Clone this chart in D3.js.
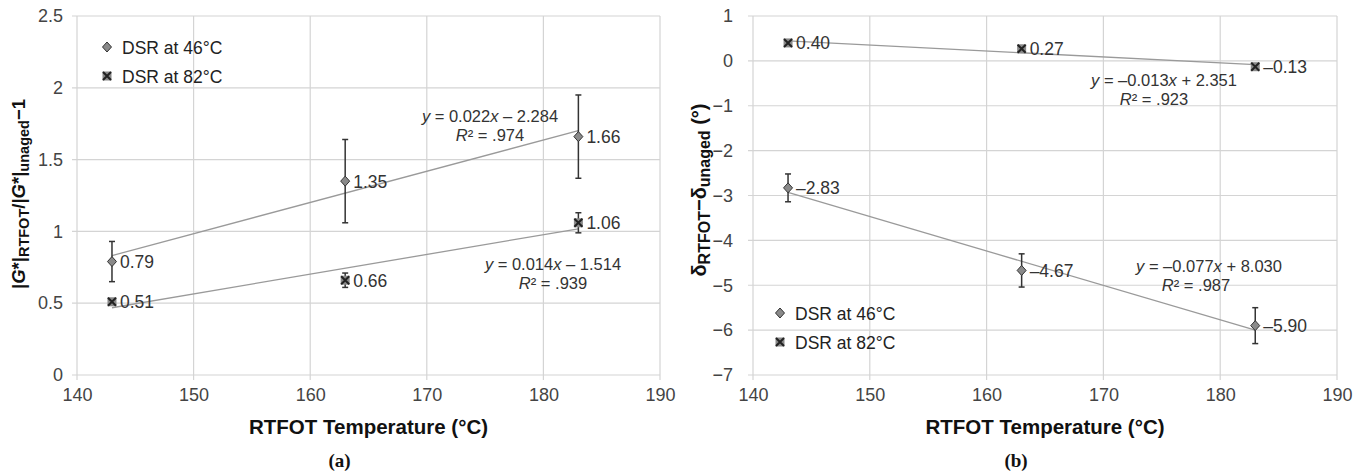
<!DOCTYPE html>
<html>
<head>
<meta charset="utf-8">
<script src="https://cdn.jsdelivr.net/npm/d3@7"></script>
<style>
  body { margin: 0; background: #fff; }
  text { font-family: "Liberation Sans", Arial, sans-serif; }
</style>
</head>
<body>
<div id="content"></div>
<script>
// Datos
const temps = [143, 163, 183];
const xTicks = [140, 150, 160, 170, 180, 190];

// Panel (a)
const gA46 = [0.79, 1.35, 1.66];
const gA46Err = [0.14, 0.29, 0.29];
const gA82 = [0.51, 0.66, 1.06];
const gA82Err = [0.02, 0.05, 0.07];
const yTicksA = [0, 0.5, 1, 1.5, 2, 2.5];

// Panel (b)
const dB46 = [-2.83, -4.67, -5.90];
const dB46Err = [0.31, 0.37, 0.40];
const dB82 = [0.40, 0.27, -0.13];
const dB82Err = [0.04, 0.04, 0.04];
const yTicksB = [1, 0, -1, -2, -3, -4, -5, -6, -7];

const legendNames = ['DSR at 46°C', 'DSR at 82°C'];

const width = 1366, height = 472;
const svg = d3.select('#content').append('svg')
    .attr('width', width).attr('height', height);

// Ajuste por minimos cuadrados (linea de tendencia)
const fit = (xs, ys) => {
    const mx = d3.mean(xs), my = d3.mean(ys);
    const b = d3.sum(xs, (x, i) => (x - mx) * (ys[i] - my)) / d3.sum(xs, x => (x - mx) ** 2);
    return { m: b, c: my - b * mx };
};

const diamond = (g, x, y) => {
    g.append('path')
        .attr('d', `M${x},${y - 5}L${x + 4.5},${y}L${x},${y + 5}L${x - 4.5},${y}Z`)
        .attr('fill', '#8a8a8a').attr('stroke', '#333').attr('stroke-width', 1);
};
const xSquare = (g, x, y) => {
    g.append('rect').attr('x', x - 4.5).attr('y', y - 4.5).attr('width', 9).attr('height', 9)
        .attr('fill', '#8a8a8a');
    g.append('path')
        .attr('d', `M${x - 4},${y - 4}L${x + 4},${y + 4}M${x + 4},${y - 4}L${x - 4},${y + 4}`)
        .attr('stroke', '#222').attr('stroke-width', 2);
};

const drawPanel = opt => {
    const g = svg.append('g');
    const x = d3.scaleLinear().domain([140, 190]).range(opt.xRange);
    const y = d3.scaleLinear().domain(opt.yDomain).range([375, 16]);

    // Rejilla
    g.selectAll('.gx').data(xTicks).enter().append('line')
        .attr('x1', d => x(d)).attr('x2', d => x(d)).attr('y1', 16).attr('y2', 380)
        .attr('stroke', '#d4d4d4').attr('stroke-width', 1.2);
    g.selectAll('.gy').data(opt.yTicks).enter().append('line')
        .attr('x1', opt.xRange[0] - 5).attr('x2', opt.xRange[1])
        .attr('y1', d => y(d)).attr('y2', d => y(d))
        .attr('stroke', '#d4d4d4').attr('stroke-width', 1.2);

    // Ejes
    const xAxis = g.append('g').attr('transform', 'translate(0,375)')
        .call(d3.axisBottom(x).tickValues(xTicks).tickSize(0).tickPadding(13));
    const yAxis = g.append('g').attr('transform', `translate(${opt.xRange[0]},0)`)
        .call(d3.axisLeft(y).tickValues(opt.yTicks).tickSize(0).tickPadding(opt.yPad)
            .tickFormat(d => d < 0 ? '\u2212' + Math.abs(d) : d));
    [xAxis, yAxis].forEach(a => {
        a.select('.domain').remove();
        a.selectAll('text').attr('fill', '#444').style('font-size', '18px')
            .style('font-family', '"Liberation Sans", Arial, sans-serif');
    });

    // Lineas de tendencia
    opt.series.forEach(s => {
        const f = fit(temps, s.values);
        g.append('line')
            .attr('x1', x(temps[0])).attr('y1', y(f.m * temps[0] + f.c))
            .attr('x2', x(temps[2])).attr('y2', y(f.m * temps[2] + f.c))
            .attr('stroke', '#9a9a9a').attr('stroke-width', 1.3);
    });

    // Barras de error y marcadores
    opt.series.forEach(s => {
        s.values.forEach((v, i) => {
            const cx = x(temps[i]);
            const e = s.err[i];
            g.append('line').attr('x1', cx).attr('x2', cx)
                .attr('y1', y(v + e)).attr('y2', y(v - e))
                .attr('stroke', '#333').attr('stroke-width', 1.5);
            [v + e, v - e].forEach(t => {
                g.append('line').attr('x1', cx - 3).attr('x2', cx + 3)
                    .attr('y1', y(t)).attr('y2', y(t))
                    .attr('stroke', '#333').attr('stroke-width', 1.5);
            });
            s.marker(g, cx, y(v));
            const lbl = v < 0 ? '\u2013' + Math.abs(v).toFixed(2) : v.toFixed(2);
            g.append('text').attr('x', cx + 8).attr('y', y(v) + 6.5)
                .attr('fill', '#333').style('font-size', '17.5px').text(lbl);
        });
    });

    // Ecuaciones
    opt.eqs.forEach(e => {
        const t1 = g.append('text').attr('x', e.x).attr('y', e.y).attr('text-anchor', 'middle')
            .attr('fill', '#333').style('font-size', '16.5px');
        t1.append('tspan').style('font-style', 'italic').text('y');
        t1.append('tspan').text(' = ' + e.eq[0]);
        t1.append('tspan').style('font-style', 'italic').text('x');
        t1.append('tspan').text(e.eq[1]);
        const t2 = g.append('text').attr('x', e.x + (e.dx || 0)).attr('y', e.y + 19)
            .attr('text-anchor', 'middle').attr('fill', '#333').style('font-size', '16.5px');
        t2.append('tspan').style('font-style', 'italic').text('R');
        t2.append('tspan').text('\u00b2 = ' + e.r2);
    });

    // Leyenda
    const lg = g.append('g');
    opt.series.forEach((s, i) => {
        const ly = opt.legend[1] + i * 29;
        s.marker(lg, opt.legend[0], ly);
        lg.append('text').attr('x', opt.legend[0] + 15).attr('y', ly + 6.5)
            .attr('fill', '#222').style('font-size', '17.5px').text(legendNames[i]);
    });

    // Titulo eje X
    const mid = (opt.xRange[0] + opt.xRange[1]) / 2;
    g.append('text').attr('x', mid).attr('y', 434).attr('text-anchor', 'middle')
        .attr('fill', '#111').style('font-size', '20.5px').style('font-weight', 'bold')
        .text('RTFOT Temperature (°C)');
    g.append('text').attr('x', mid - 29).attr('y', 467).attr('text-anchor', 'middle')
        .attr('fill', '#111').style('font-size', '19px').style('font-weight', 'bold')
        .style('font-family', '"Liberation Serif", "Times New Roman", serif')
        .text(opt.tag);

    // Titulo eje Y
    const yt = g.append('text')
        .attr('transform', `translate(${opt.yTitleX},${opt.yTitleY}) rotate(-90)`)
        .attr('text-anchor', 'middle').attr('fill', '#111')
        .style('font-size', opt.yTitleSize + 'px').style('font-weight', 'bold');
    opt.yTitle.forEach(p => {
        const ts = yt.append('tspan').text(p.t);
        if (p.i) ts.style('font-style', 'italic');
        if (p.sub) ts.attr('baseline-shift', '-25%').style('font-size', (opt.yTitleSize - 4) + 'px');
    });
};

drawPanel({
    xRange: [77, 660], yDomain: [0, 2.5], yTicks: yTicksA, tag: '(a)',
    yTitleX: 25, yTitleY: 194, yTitleSize: 18.5, yPad: 14,
    series: [
        { values: gA46, err: gA46Err, marker: diamond },
        { values: gA82, err: gA82Err, marker: xSquare }
    ],
    eqs: [
        { x: 490, y: 122, eq: ['0.022', ' \u2013 2.284'], r2: '.974' },
        { x: 553, y: 270, eq: ['0.014', ' \u2013 1.514'], r2: '.939', dx: 0 }
    ],
    legend: [107, 47],
    yTitle: [
        { t: '|' }, { t: 'G', i: true }, { t: '*|' }, { t: 'RTFOT', sub: true },
        { t: '/|' }, { t: 'G', i: true }, { t: '*|' }, { t: 'unaged', sub: true }, { t: '\u22121' }
    ]
});

drawPanel({
    xRange: [753, 1337], yDomain: [-7, 1], yTicks: yTicksB, tag: '(b)',
    yTitleX: 706, yTitleY: 190, yTitleSize: 20, yPad: 20,
    series: [
        { values: dB46, err: dB46Err, marker: diamond },
        { values: dB82, err: dB82Err, marker: xSquare }
    ],
    eqs: [
        { x: 1164, y: 86, eq: ['\u20130.013', ' + 2.351'], r2: '.923', dx: -10 },
        { x: 1209, y: 272, eq: ['\u20130.077', ' + 8.030'], r2: '.987', dx: -13 }
    ],
    legend: [780, 313],
    yTitle: [
        { t: '\u03b4' }, { t: 'RTFOT', sub: true }, { t: '\u2212\u03b4' },
        { t: 'unaged', sub: true }, { t: ' (°)' }
    ]
});
</script>
</body>
</html>
